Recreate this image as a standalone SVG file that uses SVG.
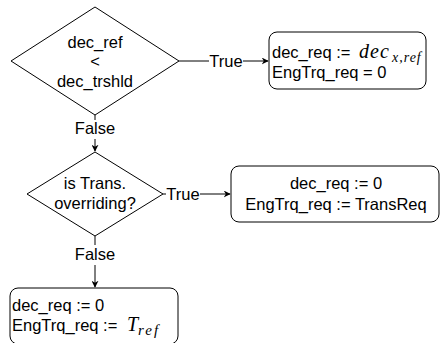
<svg xmlns="http://www.w3.org/2000/svg" width="440" height="343" viewBox="0 0 440 343">
<defs>
<style>
.shape{fill:#fff;stroke:#000;stroke-width:1}
.t{font-family:"Liberation Sans",Arial,sans-serif;font-size:16.5px;fill:#000}
.c{text-anchor:middle}
.m{font-family:"Liberation Serif","Times New Roman",serif;font-style:italic;fill:#000}
.edge{fill:none;stroke:#000;stroke-width:1}
</style>
<marker id="arr" viewBox="0 0 10 10" refX="9" refY="5" markerWidth="7" markerHeight="7" orient="auto" markerUnits="userSpaceOnUse">
<path d="M0,0 L10,5 L0,10 L3,5 Z" fill="#000"/>
</marker>
</defs>
<rect width="440" height="343" fill="#fff"/>
<g id="connectors">
<path class="edge" d="M179,61 H209"/>
<path class="edge" d="M243,61 H268" marker-end="url(#arr)"/>
<text class="t c" x="226" y="67">True</text>
<path class="edge" d="M95,115 V120"/>
<path class="edge" d="M95,139 V151" marker-end="url(#arr)"/>
<text class="t c" x="95" y="134">False</text>
<path class="edge" d="M163,194 H166"/>
<path class="edge" d="M200,194 H230" marker-end="url(#arr)"/>
<text class="t c" x="183" y="200">True</text>
<path class="edge" d="M95,236 V245"/>
<path class="edge" d="M95,265 V287" marker-end="url(#arr)"/>
<text class="t c" x="95" y="260">False</text>
</g>
<g id="cond1">
<polygon class="shape" points="95,7 179,61 95,115 11,61"/>
<text class="t c" x="95" y="48">dec_ref</text>
<text class="t c" x="95" y="67">&lt;</text>
<text class="t c" x="95" y="87">dec_trshld</text>
</g>
<g id="box1">
<rect class="shape" x="269" y="32" width="157" height="57" rx="8"/>
<text class="t" x="272" y="58">dec_req := <tspan class="m" x="359" font-size="20" letter-spacing="1">dec</tspan><tspan class="m" x="392" dy="4" font-size="14" letter-spacing="1">x,ref</tspan></text>
<text class="t" x="272" y="78">EngTrq_req = 0</text>
</g>
<g id="cond2">
<polygon class="shape" points="95,152 163,194 95,236 27,194"/>
<text class="t c" x="95" y="189">is Trans.</text>
<text class="t c" x="95" y="209">overriding?</text>
</g>
<g id="box2">
<rect class="shape" x="231" y="166" width="208" height="56" rx="8"/>
<text class="t c" x="336" y="189">dec_req := 0</text>
<text class="t c" x="336" y="210">EngTrq_req := TransReq</text>
</g>
<g id="box3">
<rect class="shape" x="10" y="288" width="168" height="56" rx="8"/>
<text class="t" x="12" y="311">dec_req := 0</text>
<text class="t" x="12" y="331">EngTrq_req := <tspan class="m" x="127" font-size="20">T</tspan><tspan class="m" x="138" dy="4" font-size="15" letter-spacing="2">ref</tspan></text>
</g>
</svg>
